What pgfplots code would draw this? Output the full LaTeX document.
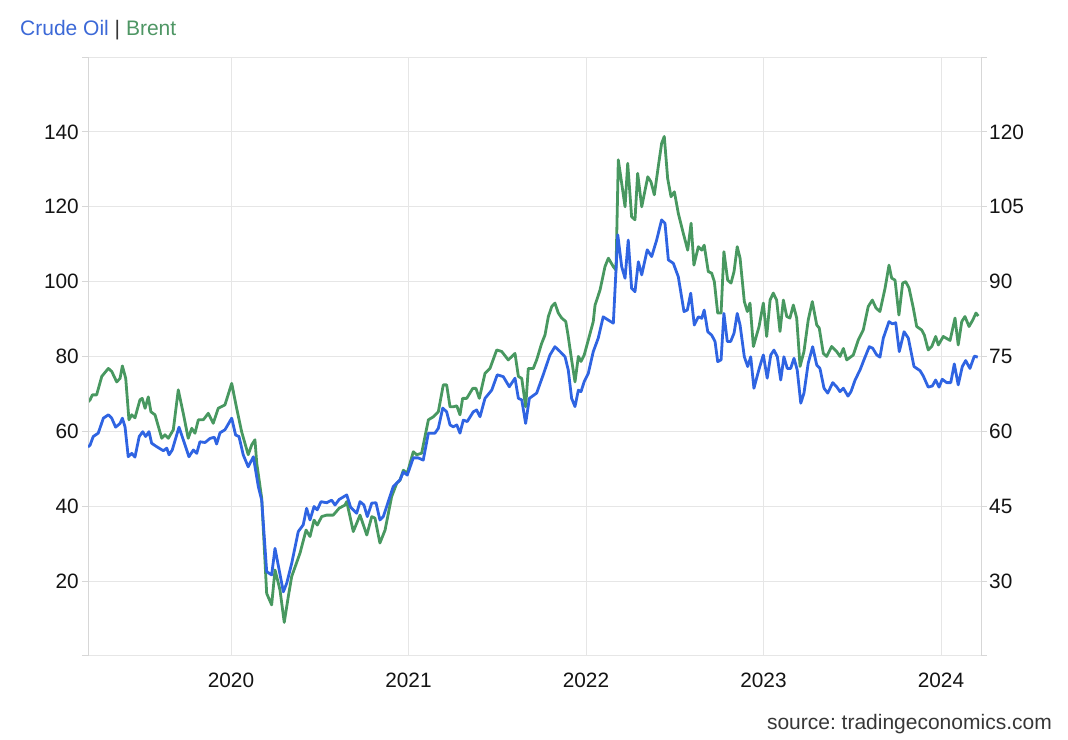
\documentclass[border=0pt]{standalone}
\usepackage{fontspec}
\setmainfont{Liberation Sans}
\usepackage{pgfplots}
\usepackage{pgfplotstable}
\pgfplotsset{compat=1.18}
\frenchspacing
\definecolor{wtiblue}{RGB}{47,100,226}
\definecolor{brentgreen}{RGB}{72,152,96}
\definecolor{titleblue}{RGB}{60,105,215}
\definecolor{titlegreen}{RGB}{78,150,100}
\definecolor{gridgray}{RGB}{230,230,230}
\definecolor{axisgray}{RGB}{215,215,215}
\definecolor{labelgray}{RGB}{20,20,20}
\definecolor{srcgray}{RGB}{55,55,55}

\pgfplotstableread{
t v
2019.194 55.8
2019.206 56.3
2019.224 58.6
2019.252 59.5
2019.281 63.5
2019.309 64.4
2019.328 63.5
2019.350 61.1
2019.375 62.1
2019.388 63.5
2019.403 61.2
2019.421 53.2
2019.441 54.1
2019.459 53.1
2019.483 58.6
2019.503 59.9
2019.519 58.6
2019.538 59.9
2019.553 56.8
2019.581 55.9
2019.619 54.8
2019.638 55.5
2019.651 53.7
2019.669 55.0
2019.707 61.1
2019.735 57.2
2019.763 53.2
2019.788 55.0
2019.807 54.1
2019.825 57.2
2019.854 57.0
2019.882 58.1
2019.906 58.4
2019.919 56.6
2019.938 59.6
2019.966 60.4
2020.004 63.5
2020.026 59.0
2020.045 58.6
2020.069 53.7
2020.097 50.5
2020.126 53.2
2020.154 45.2
2020.173 41.6
2020.201 22.5
2020.229 21.6
2020.248 28.7
2020.295 17.1
2020.314 19.4
2020.342 24.7
2020.379 33.2
2020.407 35.0
2020.426 39.4
2020.445 36.3
2020.468 39.9
2020.486 39.0
2020.507 41.2
2020.539 40.9
2020.567 41.6
2020.586 40.3
2020.610 41.8
2020.652 43.0
2020.674 39.7
2020.708 38.1
2020.727 41.2
2020.749 40.3
2020.768 37.2
2020.793 40.8
2020.817 40.9
2020.839 36.3
2020.858 37.2
2020.886 41.2
2020.914 45.2
2020.952 47.0
2020.971 49.1
2020.993 48.3
2021.027 52.9
2021.054 52.9
2021.083 52.3
2021.112 59.5
2021.149 59.5
2021.168 60.8
2021.193 66.2
2021.215 65.2
2021.234 61.7
2021.252 61.2
2021.272 61.7
2021.290 59.5
2021.309 63.0
2021.331 62.6
2021.365 65.2
2021.384 65.7
2021.403 63.9
2021.431 68.8
2021.469 71.0
2021.500 75.1
2021.534 74.6
2021.568 71.9
2021.600 74.2
2021.619 68.8
2021.638 68.4
2021.660 62.1
2021.681 68.8
2021.722 70.2
2021.759 75.1
2021.797 80.4
2021.825 82.6
2021.854 81.3
2021.882 79.9
2021.900 76.4
2021.919 68.8
2021.938 66.6
2021.957 71.0
2021.972 70.6
2021.990 73.3
2022.013 75.5
2022.041 81.3
2022.069 84.9
2022.097 90.6
2022.126 89.7
2022.154 88.9
2022.179 112.5
2022.201 104.0
2022.220 100.9
2022.238 111.1
2022.257 98.2
2022.276 97.3
2022.295 105.3
2022.314 101.8
2022.345 108.5
2022.370 106.7
2022.398 111.1
2022.426 116.5
2022.445 115.6
2022.464 105.8
2022.492 104.9
2022.520 101.3
2022.552 92.0
2022.571 92.4
2022.590 96.9
2022.610 88.4
2022.633 90.6
2022.652 90.2
2022.666 92.4
2022.686 86.6
2022.708 85.7
2022.727 84.0
2022.742 78.6
2022.761 79.1
2022.777 91.5
2022.796 84.0
2022.815 84.0
2022.834 86.2
2022.852 91.5
2022.868 88.4
2022.892 79.9
2022.911 77.3
2022.928 79.9
2022.946 71.5
2022.976 76.8
2022.999 80.4
2023.021 74.2
2023.041 80.4
2023.059 81.7
2023.078 79.9
2023.097 73.7
2023.115 79.9
2023.134 76.8
2023.153 76.8
2023.172 79.5
2023.190 76.4
2023.210 67.5
2023.228 70.2
2023.252 78.2
2023.277 82.6
2023.300 77.7
2023.318 76.8
2023.341 71.5
2023.362 70.2
2023.390 73.0
2023.412 71.9
2023.431 70.6
2023.450 71.5
2023.476 69.4
2023.493 70.6
2023.516 73.7
2023.544 76.4
2023.566 79.1
2023.596 82.6
2023.615 82.2
2023.638 80.4
2023.656 79.8
2023.675 84.9
2023.707 89.3
2023.726 88.7
2023.745 89.0
2023.765 81.3
2023.792 86.6
2023.816 84.9
2023.848 77.3
2023.882 76.2
2023.900 74.8
2023.928 71.8
2023.951 72.1
2023.970 73.7
2023.989 71.8
2024.007 73.9
2024.032 73.0
2024.055 73.0
2024.075 78.0
2024.097 72.4
2024.120 77.3
2024.139 78.9
2024.163 76.8
2024.188 80.1
2024.207 79.8
}\crudedata

\pgfplotstableread{
t v
2019.194 65.9
2019.206 66.3
2019.219 67.3
2019.243 67.3
2019.272 71.0
2019.309 72.6
2019.328 72.0
2019.356 69.9
2019.375 70.6
2019.388 73.1
2019.407 70.6
2019.425 62.3
2019.441 63.3
2019.459 62.7
2019.487 66.3
2019.500 66.6
2019.516 64.6
2019.534 66.9
2019.549 63.9
2019.572 63.3
2019.610 58.6
2019.628 59.3
2019.647 58.6
2019.675 60.3
2019.703 68.3
2019.731 63.6
2019.759 58.6
2019.779 60.6
2019.797 59.6
2019.816 62.3
2019.844 62.3
2019.872 63.6
2019.900 61.6
2019.928 64.6
2019.966 65.3
2020.004 69.6
2020.032 64.6
2020.060 59.9
2020.097 55.3
2020.117 57.3
2020.135 58.3
2020.145 53.6
2020.173 46.6
2020.201 27.5
2020.229 25.2
2020.248 32.2
2020.276 28.2
2020.300 21.7
2020.323 26.9
2020.342 30.9
2020.389 35.6
2020.423 40.2
2020.445 38.9
2020.468 42.2
2020.486 41.2
2020.511 42.9
2020.539 43.2
2020.576 43.2
2020.610 44.6
2020.642 45.2
2020.652 45.9
2020.689 39.9
2020.727 43.2
2020.765 39.2
2020.793 42.9
2020.811 42.6
2020.839 37.6
2020.868 40.2
2020.905 46.9
2020.934 49.6
2020.952 50.2
2020.971 52.2
2020.993 51.6
2021.027 55.9
2021.046 55.3
2021.074 55.6
2021.112 62.3
2021.140 62.9
2021.168 63.9
2021.196 69.3
2021.215 69.3
2021.234 64.9
2021.252 64.9
2021.272 65.1
2021.290 63.3
2021.305 66.6
2021.328 66.6
2021.362 68.6
2021.380 68.6
2021.399 66.6
2021.431 71.6
2021.459 72.6
2021.497 76.3
2021.525 76.0
2021.562 74.3
2021.600 75.6
2021.619 71.0
2021.638 70.6
2021.660 64.9
2021.675 72.6
2021.703 72.6
2021.722 74.3
2021.750 77.6
2021.769 79.3
2021.788 83.0
2021.807 85.0
2021.825 85.7
2021.844 83.7
2021.863 82.7
2021.886 82.0
2021.900 79.0
2021.919 74.3
2021.938 69.9
2021.957 75.0
2021.972 74.0
2021.990 75.3
2022.013 78.3
2022.041 82.0
2022.051 85.3
2022.079 88.3
2022.107 93.0
2022.126 94.7
2022.154 93.0
2022.169 92.3
2022.182 114.4
2022.220 105.0
2022.235 113.7
2022.257 103.0
2022.276 102.4
2022.291 111.7
2022.314 105.0
2022.348 111.0
2022.366 110.0
2022.385 107.4
2022.407 113.0
2022.426 117.7
2022.441 119.1
2022.460 110.7
2022.479 107.0
2022.498 108.0
2022.520 103.7
2022.548 99.7
2022.573 96.3
2022.592 101.7
2022.608 93.3
2022.633 97.0
2022.652 96.3
2022.666 97.3
2022.689 92.0
2022.708 91.7
2022.723 90.0
2022.742 83.7
2022.761 83.7
2022.777 96.0
2022.798 90.3
2022.817 89.7
2022.834 92.0
2022.852 97.0
2022.868 94.7
2022.892 86.0
2022.909 84.0
2022.924 85.7
2022.943 77.0
2022.975 81.0
2022.999 85.7
2023.018 79.0
2023.037 86.3
2023.055 87.7
2023.074 86.3
2023.093 80.0
2023.112 86.3
2023.131 83.0
2023.149 82.7
2023.168 85.3
2023.187 82.7
2023.206 73.0
2023.228 76.0
2023.252 82.3
2023.275 86.0
2023.300 81.3
2023.314 80.7
2023.337 75.6
2023.356 75.0
2023.384 77.0
2023.412 76.0
2023.431 75.0
2023.450 76.6
2023.469 74.3
2023.506 75.3
2023.534 78.3
2023.562 80.3
2023.590 85.0
2023.613 86.3
2023.634 84.7
2023.656 84.0
2023.685 88.7
2023.707 93.3
2023.722 90.7
2023.741 90.3
2023.763 83.3
2023.784 89.7
2023.801 90.0
2023.820 88.7
2023.844 84.7
2023.863 81.0
2023.891 80.3
2023.906 79.3
2023.928 76.3
2023.948 77.0
2023.970 79.0
2023.985 77.3
2024.013 79.0
2024.032 78.6
2024.051 78.2
2024.079 82.7
2024.097 77.3
2024.117 82.0
2024.135 83.0
2024.158 81.0
2024.179 82.3
2024.197 83.7
2024.210 83.1
}\brentdata

\begin{document}
\begin{tikzpicture}
\useasboundingbox (0,0) rectangle (1068bp,740bp);
\pgfplotsset{
  common/.style={
    at={(88bp,84.2bp)}, anchor=south west,
    scale only axis, width=893bp, height=598.7bp,
    xmin=2019.1944, xmax=2024.2254,
    /pgf/number format/assume math mode=true,
    tick label style={font=\fontsize{20.8bp}{24bp}\selectfont, text=labelgray, inner sep=1bp},
    tick align=outside, major tick length=6bp,
    ytick style={draw=axisgray, line width=0.9bp},
    axis line style={draw=axisgray, line width=0.9bp},
    clip=true,
  },
}
% Brent (right axis), grid and x labels
\begin{axis}[common,
  axis y line*=right, axis x line*=bottom,
  x axis line style={draw=gridgray},
  ymin=15, ymax=135,
  ytick={15,30,45,60,75,90,105,120,135},
  yticklabels={{},30,45,60,75,90,105,120,{}},
  yticklabel style={anchor=west, xshift=1bp},
  xtick={2020,2021,2022,2023,2024},
  xticklabels={2020,2021,2022,2023,2024},
  xtick style={draw=none},
  xticklabel style={yshift=-10bp},
  xmajorgrids, ymajorgrids,
  grid style={draw=gridgray, line width=0.9bp},
]
\addplot[brentgreen, line width=2.8bp, line join=round] table[x=t,y=v] {\brentdata};
\end{axis}
% Crude Oil (left axis)
\begin{axis}[common,
  axis y line*=left, axis x line=none,
  ymin=0, ymax=160,
  ytick={0,20,40,60,80,100,120,140,160},
  yticklabels={{},20,40,60,80,100,120,140,{}},
  yticklabel style={anchor=east, xshift=-2bp},
]
\addplot[wtiblue, line width=2.8bp, line join=round] table[x=t,y=v] {\crudedata};
\end{axis}
\node[anchor=base west, inner sep=0pt, font=\fontsize{21bp}{24bp}\selectfont] at (20bp,704bp)
  {\textcolor{titleblue}{Crude Oil} \textcolor{srcgray}{|} \textcolor{titlegreen}{Brent}};
\node[anchor=base east, inner sep=0pt, font=\fontsize{21bp}{24bp}\selectfont, text=srcgray] at (1052bp,11bp)
  {source:\ tradingeconomics.com};
\end{tikzpicture}
\end{document}
